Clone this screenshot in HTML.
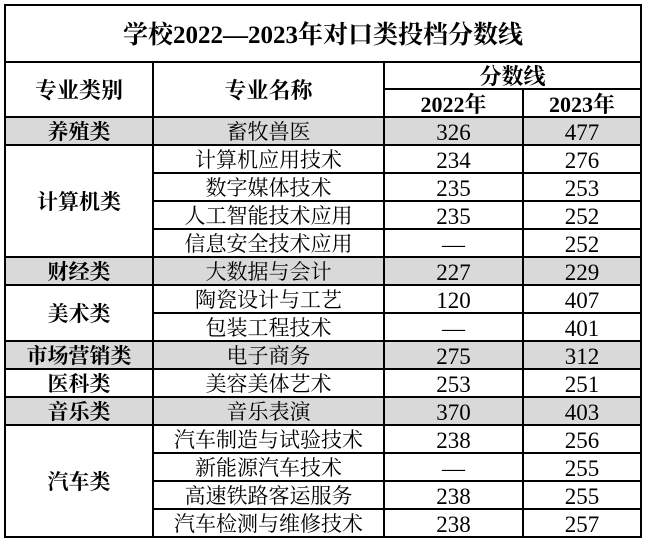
<!DOCTYPE html>
<html><head><meta charset="utf-8"><style>
body{margin:0;width:651px;height:543px;background:#fff;position:relative;overflow:hidden;font-family:"Liberation Serif","Noto Serif CJK SC",serif;color:#000}
.c{position:absolute;display:flex;align-items:center;justify-content:center;font-size:21px;line-height:1;padding-top:3px;box-sizing:border-box}
.b{font-weight:bold;font-family:"Liberation Serif","Noto Serif CJK SC",serif}
.h{position:absolute;background:#000;height:2px}
.v{position:absolute;background:#000;width:2px}
.g{position:absolute;background:#d9d9d9;left:5px;width:636px;height:28px}
</style></head><body>
<div class="g" style="top:117px"></div>
<div class="g" style="top:257px"></div>
<div class="g" style="top:341px"></div>
<div class="g" style="top:397px"></div>

<div class="c b" style="left:5px;top:5px;width:636px;height:57px;font-size:25px">学校2022—2023年对口类投档分数线</div>
<div class="c b" style="left:5px;top:62px;width:148px;height:55px;font-size:22px">专业类别</div>
<div class="c b" style="left:153px;top:62px;width:231px;height:55px;font-size:22px">专业名称</div>
<div class="c b" style="left:384px;top:62px;width:257px;height:27px;font-size:22px">分数线</div>
<div class="c b" style="left:384px;top:89px;width:139px;height:28px;font-size:22px">2022年</div>
<div class="c b" style="left:523px;top:89px;width:118px;height:28px;font-size:22px">2023年</div>

<div class="c b" style="left:5px;top:117px;width:148px;height:28px">养殖类</div>
<div class="c b" style="left:5px;top:145px;width:148px;height:112px">计算机类</div>
<div class="c b" style="left:5px;top:257px;width:148px;height:28px">财经类</div>
<div class="c b" style="left:5px;top:285px;width:148px;height:56px">美术类</div>
<div class="c b" style="left:5px;top:341px;width:148px;height:28px">市场营销类</div>
<div class="c b" style="left:5px;top:369px;width:148px;height:28px">医科类</div>
<div class="c b" style="left:5px;top:397px;width:148px;height:28px">音乐类</div>
<div class="c b" style="left:5px;top:425px;width:148px;height:112px">汽车类</div>

<div id="rows"></div>
<script>
var d=[["畜牧兽医","326","477"],["计算机应用技术","234","276"],["数字媒体技术","235","253"],["人工智能技术应用","235","252"],["信息安全技术应用","—","252"],["大数据与会计","227","229"],["陶瓷设计与工艺","120","407"],["包装工程技术","—","401"],["电子商务","275","312"],["美容美体艺术","253","251"],["音乐表演","370","403"],["汽车制造与试验技术","238","256"],["新能源汽车技术","—","255"],["高速铁路客运服务","238","255"],["汽车检测与维修技术","238","257"]];
var h="";
d.forEach(function(r,i){var t=117+28*i;
h+='<div class="c" style="left:153px;top:'+t+'px;width:231px;height:28px">'+r[0]+'</div>';
h+='<div class="c" style="left:384px;top:'+t+'px;width:139px;height:28px;font-size:23px">'+r[1]+'</div>';
h+='<div class="c" style="left:523px;top:'+t+'px;width:118px;height:28px;font-size:23px">'+r[2]+'</div>';
h+='<div class="h" style="left:153px;width:488px;top:'+(t+27)+'px"></div>';});
[144,256,284,340,368,396,424].forEach(function(y){h+='<div class="h" style="left:5px;width:150px;top:'+y+'px"></div>';});
document.getElementById("rows").innerHTML=h;
</script>
<div class="h" style="left:4px;width:638px;top:4px"></div>
<div class="h" style="left:4px;width:638px;top:61px"></div>
<div class="h" style="left:383px;width:259px;top:88px"></div>
<div class="h" style="left:4px;width:638px;top:116px"></div>
<div class="h" style="left:4px;width:638px;top:536px"></div>
<div class="v" style="left:4px;top:4px;height:534px"></div>
<div class="v" style="left:640px;top:4px;height:534px"></div>
<div class="v" style="left:152px;top:61px;height:477px"></div>
<div class="v" style="left:383px;top:61px;height:477px"></div>
<div class="v" style="left:522px;top:88px;height:450px"></div>
</body></html>
